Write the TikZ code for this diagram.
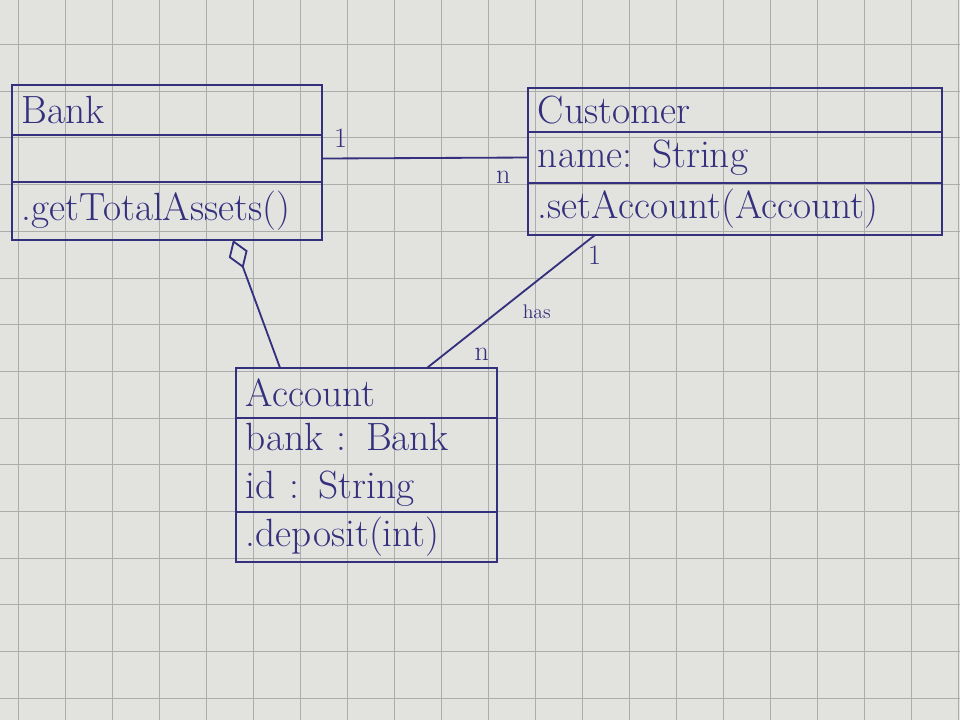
\documentclass[tikz,border=0pt]{standalone}
\usetikzlibrary{positioning, arrows.meta}

\definecolor{ink}{RGB}{52,48,125}
\definecolor{paper}{RGB}{226,226,223}
\definecolor{gridline}{RGB}{172,172,172}

\begin{document}
\begin{tikzpicture}[x=0.025cm, y=-0.025cm,
	every node/.style={text=ink, font=\fontsize{28}{34}\selectfont},
	cls/.style={draw=ink, line width=1.3pt, rectangle, inner xsep=0.25cm, outer sep=0pt, align=left},
	assoc/.style={draw=ink, line width=1.3pt},
	mult/.style={font=\fontsize{20}{24}\selectfont},
	role/.style={font=\fontsize{14}{16}\selectfont}]

	% paper
	\useasboundingbox (0,0) rectangle (960,720);
	\fill[paper] (0,0) rectangle (960,720);
	\foreach \gx in {0,...,20}
		\draw[gridline, line width=0.6pt] ({18+47*\gx},0) -- ({18+47*\gx},720);
	\foreach \gy in {0,...,14}
		\draw[gridline, line width=0.6pt] (0,{44.5+46.7*\gy}) -- (960,{44.5+46.7*\gy});

	% Bank
	\node[cls, anchor=north, text width=7.25cm, minimum height=1.25cm]	(bank)		at (167,85) {Bank};
	\node[cls, text width=7.25cm, minimum height=1.175cm]			(bankattr)	[below=0pt of bank] {};
	\node[cls, text width=7.25cm, minimum height=1.45cm]			(bankops)	[below=0pt of bankattr] {.getTotalAssets()};

	% Customer
	\node[cls, anchor=north, text width=9.85cm, minimum height=1.1cm]	(cust)		at (735,88) {Customer};
	\node[cls, text width=9.85cm, minimum height=1.275cm]			(custattr)	[below=0pt of cust] {name: String};
	\node[cls, text width=9.85cm, minimum height=1.3cm]			(custops)	[below=0pt of custattr] {.setAccount(Account)};

	% Account
	\node[cls, anchor=north, text width=6.025cm, minimum height=1.25cm]	(acc)		at (366.5,368) {Account};
	\node[cls, text width=6.025cm, minimum height=2.35cm]			(accattr)	[below=0pt of acc] {bank : Bank\\id : String};
	\node[cls, text width=6.025cm, minimum height=1.25cm]			(accops)	[below=0pt of accattr] {.deposit(int)};

	\coordinate (aggtop)	at ([xshift=1.65cm]bankops.south);
	\coordinate (aggfoot)	at ([xshift=-2.16cm]acc.north);
	\coordinate (custfoot)	at ([xshift=-3.5cm]custops.south);
	\coordinate (acchead)	at ([xshift=1.51cm]acc.north);

	\draw[assoc] (bankattr.east) -- node[mult, pos=0.09, above=4pt] {1} node[mult, pos=0.88, below=6pt] {n} (custattr.west);
	\draw[assoc, -{Diamond[open, length=0.75cm, width=0.5cm]}] (aggfoot) -- (aggtop);
	\draw[assoc] (custfoot) -- node[mult, pos=0.15, right=9pt] {1}
		node[role, pos=0.58, right=14pt] {has}
		node[mult, pos=0.9, right=18pt] {n} (acchead);
\end{tikzpicture}
\end{document}
